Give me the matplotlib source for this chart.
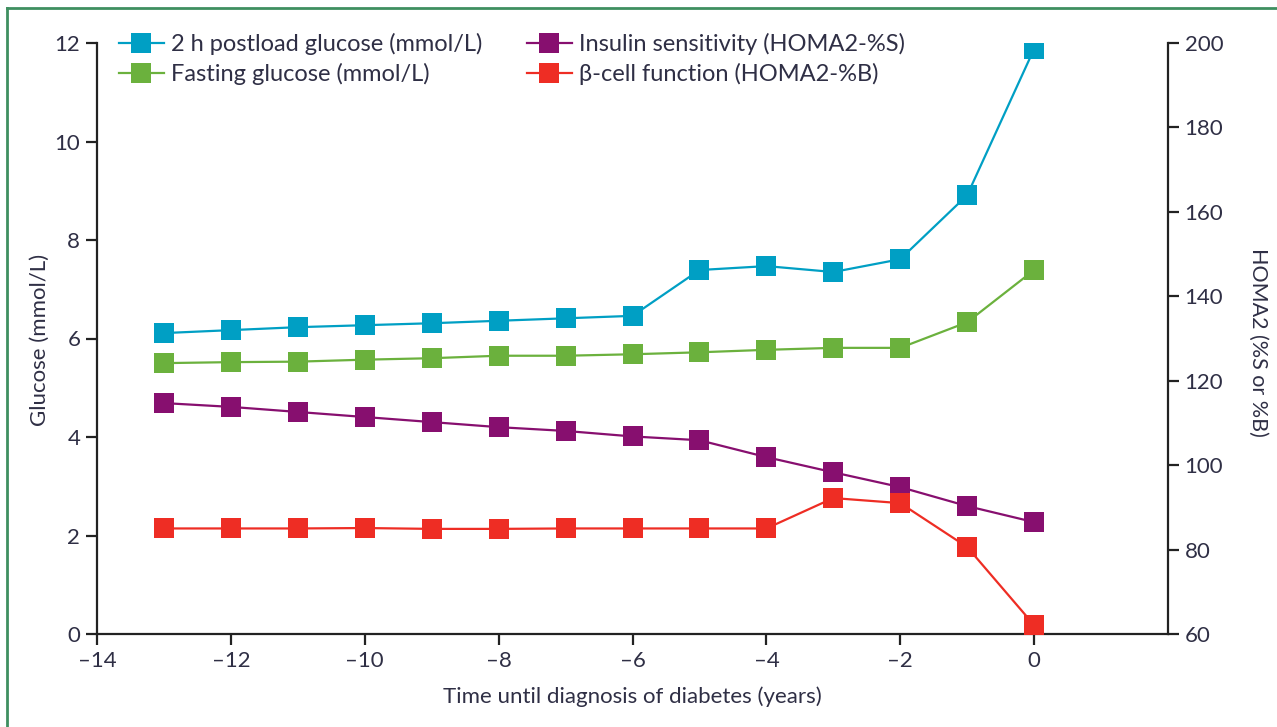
import matplotlib
matplotlib.use("Agg")
import matplotlib.pyplot as plt
from matplotlib.lines import Line2D

plt.rcParams['font.family'] = ['Lato', 'DejaVu Sans']

years = [-13, -12, -11, -10, -9, -8, -7, -6, -5, -4, -3, -2, -1, 0]
postload_glucose = [6.11, 6.17, 6.23, 6.27, 6.31, 6.36, 6.41, 6.46, 7.39, 7.47, 7.35, 7.61, 8.91, 11.88]
fasting_glucose = [5.50, 5.52, 5.53, 5.57, 5.60, 5.65, 5.65, 5.68, 5.72, 5.77, 5.81, 5.81, 6.33, 7.39]
insulin_sensitivity = [114.7, 113.8, 112.6, 111.4, 110.2, 109.0, 108.1, 106.8, 105.9, 101.9, 98.3, 94.8, 90.3, 86.5]
beta_cell = [85.0, 85.0, 85.0, 85.1, 84.9, 84.9, 85.0, 85.0, 85.0, 85.0, 92.2, 91.0, 80.6, 62.1]

x_ticks = [-14, -12, -10, -8, -6, -4, -2, 0]
left_ticks = [0, 2, 4, 6, 8, 10, 12]
right_ticks = [60, 80, 100, 120, 140, 160, 180, 200]

c_blue = '#009FC4'
c_green = '#6BB13D'
c_purple = '#870F6F'
c_red = '#EE2D24'
txt = '#2f2f45'

W, H = 1277, 727
fig = plt.figure(figsize=(W/100, H/100), dpi=100)
ax = fig.add_axes([97/W, 1-634/H, (1168-97)/W, (634-43)/H])
ax2 = ax.twinx()

mk = dict(marker='s', markersize=14.5, lw=1.6, markeredgewidth=0)
l1, = ax.plot(years, postload_glucose, color=c_blue, label='2 h postload glucose (mmol/L)', **mk)
l2, = ax.plot(years, fasting_glucose, color=c_green, label='Fasting glucose (mmol/L)', **mk)
l3, = ax2.plot(years, insulin_sensitivity, color=c_purple, label='Insulin sensitivity (HOMA2-%S)', **mk)
l4, = ax2.plot(years, beta_cell, color=c_red, label='β-cell function (HOMA2-%B)', **mk)

ax.set_xlim(-14, 2)
ax.set_ylim(0, 12)
ax2.set_ylim(60, 200)
ax.set_xticks(x_ticks)
ax.set_xticklabels(['–' + str(-t) if t < 0 else str(t) for t in x_ticks])
ax.set_yticks(left_ticks)
ax2.set_yticks(right_ticks)

for a in (ax, ax2):
    a.spines['top'].set_visible(False)
    for s in a.spines.values():
        s.set_linewidth(1.6)
        s.set_color('#222222')
    a.tick_params(direction='out', length=8, width=1.6, labelsize=16, colors='#222222', labelcolor=txt, pad=4)
ax.spines['right'].set_visible(False)
ax2.spines['left'].set_visible(False)
ax2.spines['bottom'].set_visible(False)

axw, axh = 1168-97, 634-43
ax.set_xlabel('Time until diagnosis of diabetes (years)', fontsize=16, color=txt, va='center')
ax.xaxis.set_label_coords(0.5, (634-697)/axh)
ax.set_ylabel('Glucose (mmol/L)', fontsize=16, color=txt, va='center', rotation_mode='anchor')
ax.yaxis.set_label_coords((40-97)/axw, (634-340)/axh)
ax2.set_ylabel('HOMA2 (%S or %B)', fontsize=15.5, color=txt, rotation=-90, va='center', rotation_mode='anchor')
ax2.yaxis.set_label_coords((1258-97)/axw, (634-342)/axh)

fig.legend(handles=[l1, l2, l3, l4], loc='upper left', bbox_to_anchor=(119/W, 1-33/H),
           ncol=2, frameon=False, fontsize=17, labelcolor=txt, columnspacing=1.88,
           handlelength=1.9, handletextpad=0.3, labelspacing=0.35, borderaxespad=0,
           borderpad=0)

border = '#3f8f60'
fig.add_artist(Line2D([7/W, 1], [1-8/H, 1-8/H], color=border, lw=2, transform=fig.transFigure))
fig.add_artist(Line2D([7/W, 7/W], [0, 1-8/H], color=border, lw=2, transform=fig.transFigure))

fig.savefig('out.png', dpi=100)
